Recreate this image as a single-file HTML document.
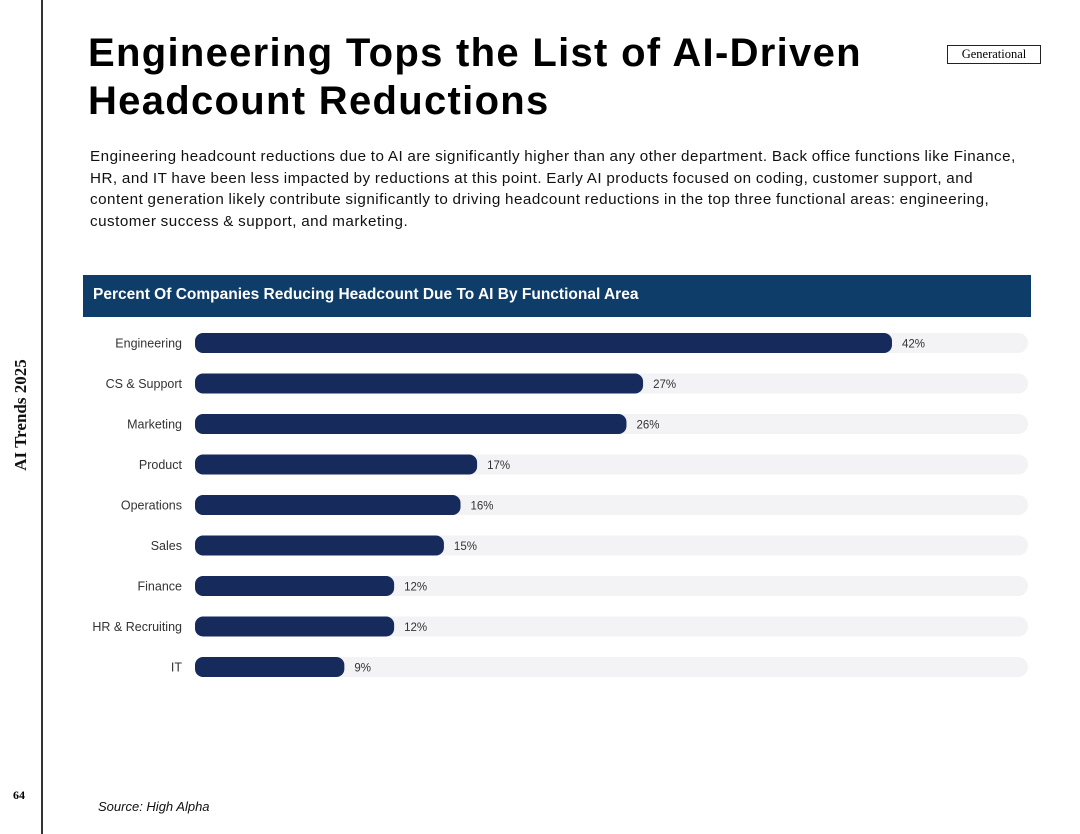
<!DOCTYPE html>
<html><head><meta charset="utf-8"><style>
body{margin:0;width:1080px;height:834px;background:#fff;position:relative;overflow:hidden;font-family:"Liberation Sans",sans-serif}
.abs{position:absolute}
</style></head><body>
<div class="abs" style="left:41px;top:0;width:2px;height:834px;background:#333"></div>
<div class="abs" style="left:21px;top:415px;transform:translate(-50%,-50%) rotate(-90deg);font-family:'Liberation Serif',serif;font-weight:bold;font-size:17px;white-space:nowrap;color:#111">AI Trends 2025</div>
<div class="abs" style="left:13px;top:788px;font-family:'Liberation Serif',serif;font-weight:bold;font-size:12px">64</div>
<div class="abs" style="left:88px;top:29px;font-size:40px;font-weight:bold;line-height:48px;color:#000;letter-spacing:1.3px">Engineering Tops the List of AI-Driven<br>Headcount Reductions</div>
<div class="abs" style="left:947px;top:45px;width:94px;height:19px;border:1.5px solid #222;box-sizing:border-box;font-family:'Liberation Serif',serif;font-size:12.5px;text-align:center;line-height:16px">Generational</div>
<div class="abs" style="left:90px;top:146px;width:940px;font-size:15.2px;letter-spacing:0.5px;word-spacing:-0.5px;line-height:21.5px;color:#111">Engineering headcount reductions due to AI are significantly higher than any other department. Back office functions like Finance, HR, and IT have been less impacted by reductions at this point. Early AI products focused on coding, customer support, and content generation likely contribute significantly to driving headcount reductions in the top three functional areas: engineering, customer success &amp; support, and marketing.</div>
<div class="abs" style="left:83px;top:275px;width:948px;height:42px;background:#0f3d69;color:#fff;font-weight:bold;font-size:15.5px;line-height:40px;padding-left:10px;box-sizing:border-box">Percent Of Companies Reducing Headcount Due To AI By Functional Area</div>
<svg class="abs" style="left:0;top:0" width="1080" height="834" id="chart"></svg>
<div class="abs" style="left:98px;top:799px;font-size:13px;font-style:italic;color:#111">Source: High Alpha</div>
<script>
const categories=["Engineering","CS & Support","Marketing","Product","Operations","Sales","Finance","HR & Recruiting","IT"];
const values=[42,27,26,17,16,15,12,12,9];
const labels=["42%","27%","26%","17%","16%","15%","12%","12%","9%"];
const svg=document.getElementById('chart');
const NS='http://www.w3.org/2000/svg';
const x0=195,pxPer=697/42,trackEnd=1028;
const xs=v=>x0+v*pxPer;
const ys=i=>343+i*40.5;
categories.forEach((c,i)=>{
 const y=ys(i);
 const tr=document.createElementNS(NS,'rect');
 
 
 tr.setAttribute('x',x0);tr.setAttribute('y',y-10);tr.setAttribute('width',trackEnd-x0);tr.setAttribute('height',20);tr.setAttribute('rx',10);tr.setAttribute('fill','#f3f3f5');
 svg.appendChild(tr);
 const b=document.createElementNS(NS,'rect');
 
 
 b.setAttribute('x',x0);b.setAttribute('y',y-10);b.setAttribute('width',xs(values[i])-x0);b.setAttribute('height',20);b.setAttribute('rx',8);b.setAttribute('fill','#172a5c');
 svg.appendChild(b);
 const t=document.createElementNS(NS,'text');
 
 
 t.setAttribute('x',182);t.setAttribute('y',y+4.5);t.setAttribute('text-anchor','end');t.setAttribute('font-size','12.5');t.setAttribute('fill','#333');t.setAttribute('font-family','Liberation Sans, sans-serif');
 t.textContent=c;svg.appendChild(t);
 const v=document.createElementNS(NS,'text');
 
 
 v.setAttribute('x',xs(values[i])+10);v.setAttribute('y',y+4.5);v.setAttribute('font-size','11.5');v.setAttribute('fill','#333');v.setAttribute('font-family','Liberation Sans, sans-serif');
 v.textContent=labels[i];svg.appendChild(v);
});
</script>
</body></html>
